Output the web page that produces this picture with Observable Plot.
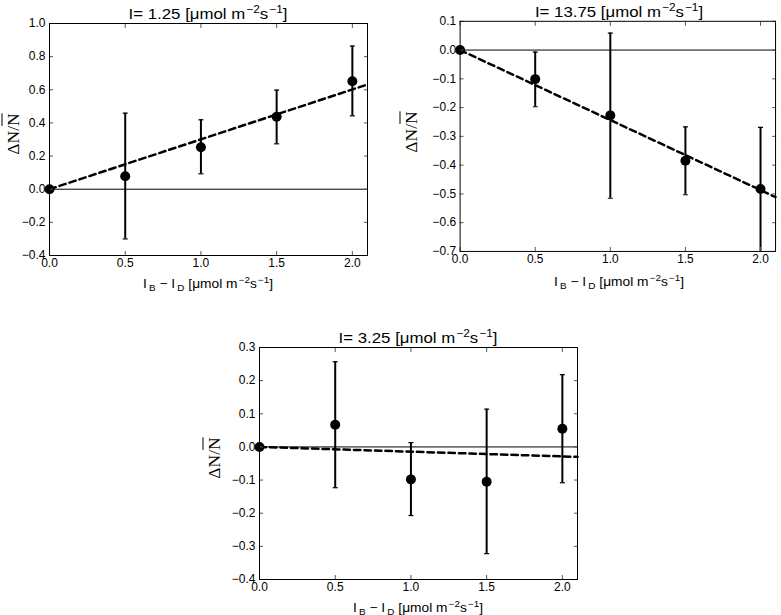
<!DOCTYPE html>
<html><head><meta charset="utf-8">
<script src="https://cdn.jsdelivr.net/npm/d3@7"></script>
<script src="https://cdn.jsdelivr.net/npm/@observablehq/plot@0.6"></script>
<style>
body{margin:0;background:#fff;}
#root{position:relative;width:781px;height:615px;font-family:"Liberation Sans",Arial,sans-serif;color:#000;overflow:hidden;}
.panel{position:absolute;}
.title,.xlabel{position:absolute;white-space:nowrap;line-height:16px;}
.title{font-size:15px;transform:translateX(-50%) scaleX(1.12);}
.xlabel{font-size:12.5px;transform:translateX(-50%) scaleX(1.1);}
.title sup{font-size:10.5px;vertical-align:6px;line-height:0;margin-left:1px;}
.xlabel sup{font-size:9px;vertical-align:5px;line-height:0;margin-left:1px;}
.xlabel sub{font-size:9px;vertical-align:-3px;line-height:0;margin-left:2px;}
.ylabel{position:absolute;font-family:"Liberation Serif","DejaVu Serif",serif;font-size:17.5px;white-space:nowrap;transform:translate(-50%,-50%) rotate(-90deg);line-height:19px;}
.ov{text-decoration:overline;text-decoration-thickness:1px;}
</style>
</head><body><div id="root"></div>
<script>
// ---- data ----
const xs = [0, 0.5, 1.0, 1.5, 2.0];
const xTicks = [0, 0.5, 1.0, 1.5, 2.0];
const fitX = [0, 2.1];

// panel 1: I = 1.25
const title1 = "1.25";
const mean1 = [0, 0.078, 0.253, 0.437, 0.652];
const lo1   = [0, -0.300, 0.093, 0.274, 0.443];
const hi1   = [0, 0.459, 0.419, 0.598, 0.864];
const fit1  = [0, 0.632];
const yTicks1 = [-0.4, -0.2, 0.0, 0.2, 0.4, 0.6, 0.8, 1.0];

// panel 2: I = 13.75
const title2 = "13.75";
const mean2 = [0, -0.101, -0.227, -0.385, -0.483];
const lo2   = [0, -0.197, -0.515, -0.503, -0.760];
const hi2   = [0, -0.007, 0.059, -0.267, -0.269];
const fit2  = [0, -0.511];
const yTicks2 = [-0.7, -0.6, -0.5, -0.4, -0.3, -0.2, -0.1, 0.0, 0.1];

// panel 3: I = 3.25
const title3 = "3.25";
const mean3 = [0, 0.067, -0.098, -0.105, 0.055];
const lo3   = [0, -0.123, -0.207, -0.322, -0.108];
const hi3   = [0, 0.257, 0.013, 0.114, 0.218];
const fit3  = [0, -0.030];
const yTicks3 = [-0.4, -0.3, -0.2, -0.1, 0.0, 0.1, 0.2, 0.3];

const root = document.getElementById("root");
const unitStr = '[\u03bcmol m<sup>\u22122</sup>s<sup>\u22121</sup>]';

const capSym = {draw(ctx) { ctx.moveTo(-2.5, 0); ctx.lineTo(2.5, 0); }};
const fmt = d3.format(".1f");

function panel(cfg) {
  const {fl, ft, title, mean, lo, hi, fit, yTicks, ylx} = cfg;
  const ML = 49, MT = 23, FW = 318, FH = 232, MR = 6, MB = 22;
  const data = xs.map((x, i) => ({x, m: mean[i], lo: lo[i], hi: hi[i]}));
  const fitData = fitX.map((x, i) => ({x, y: fit[i]}));
  const yDomain = [yTicks[0], yTicks[yTicks.length - 1]];
  const chart = Plot.plot({
    width: ML + FW + MR, height: MT + FH + MB,
    marginLeft: ML, marginTop: MT, marginRight: MR, marginBottom: MB,
    x: {domain: [0, 2.1]},
    y: {domain: yDomain},
    style: {fontFamily: '"Liberation Sans", Arial, sans-serif', fontSize: "12px", color: "black", background: "transparent", overflow: "visible"},
    marks: [
      Plot.ruleY([0], {stroke: "black", strokeWidth: 1}),
      Plot.line(fitData, {x: "x", y: "y", stroke: "black", strokeWidth: 2.5, strokeDasharray: "6.5,4"}),
      Plot.ruleX(data, {x: "x", y1: "lo", y2: "hi", stroke: "black", strokeWidth: 2, clip: true}),
      Plot.dot(data, {x: "x", y: "hi", symbol: capSym, stroke: "black", strokeWidth: 1.2, clip: true}),
      Plot.dot(data, {x: "x", y: "lo", symbol: capSym, stroke: "black", strokeWidth: 1.2, clip: true}),
      Plot.dot(data, {x: "x", y: "m", r: 5, fill: "black", stroke: "none"}),
      Plot.axisX({anchor: "bottom", ticks: xTicks, tickFormat: fmt, tickSize: -4, tickPadding: 7, label: null, stroke: "#555", fontSize: 12}),
      Plot.axisX({anchor: "top", ticks: xTicks, tickFormat: () => "", tickSize: -4, tickPadding: 0, label: null, stroke: "#555"}),
      Plot.axisY({anchor: "left", ticks: yTicks, tickFormat: fmt, tickSize: -4, tickPadding: 8, label: null, stroke: "#555", fontSize: 12}),
      Plot.axisY({anchor: "right", ticks: yTicks, tickFormat: () => "", tickSize: -4, tickPadding: 0, label: null, stroke: "#555"}),
      Plot.frame({stroke: "black", strokeWidth: 1})
    ]
  });
  const wrap = document.createElement("div");
  wrap.className = "panel";
  wrap.style.left = (fl - ML) + "px";
  wrap.style.top = (ft - MT) + "px";
  wrap.appendChild(chart);
  root.appendChild(wrap);

  const cx = fl + FW / 2;
  const t = document.createElement("div");
  t.className = "title";
  t.style.left = cx + "px";
  t.style.top = (ft - 17) + "px";
  t.innerHTML = "I= " + title + " " + unitStr;
  root.appendChild(t);

  const xl = document.createElement("div");
  xl.className = "xlabel";
  xl.style.left = cx + "px";
  xl.style.top = (ft + FH + 20.5) + "px";
  xl.innerHTML = "I<sub>B</sub> \u2212 I<sub>D</sub> " + unitStr;
  root.appendChild(xl);

  const yl = document.createElement("div");
  yl.className = "ylabel";
  yl.style.left = ylx + "px";
  yl.style.top = (ft + FH / 2 - 5) + "px";
  yl.innerHTML = '\u0394N/<span class="ov">N</span>';
  root.appendChild(yl);
}

panel({fl: 49, ft: 23, title: title1, mean: mean1, lo: lo1, hi: hi1, fit: fit1, yTicks: yTicks1, ylx: 13});
panel({fl: 460, ft: 21, title: title2, mean: mean2, lo: lo2, hi: hi2, fit: fit2, yTicks: yTicks2, ylx: 411});
panel({fl: 259, ft: 347, title: title3, mean: mean3, lo: lo3, hi: hi3, fit: fit3, yTicks: yTicks3, ylx: 214});
</script>
</body></html>
